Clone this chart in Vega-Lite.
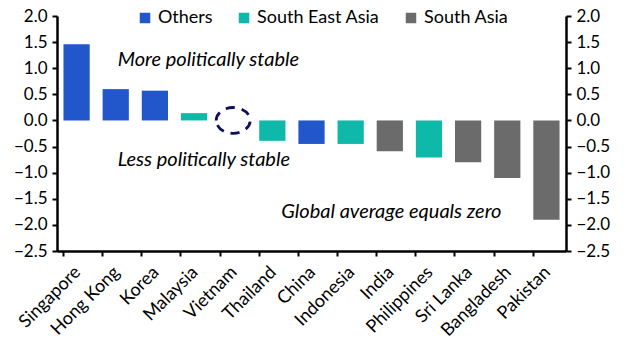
{
  "$schema": "https://vega.github.io/schema/vega-lite/v6.json",
  "autosize": "none",
  "width": 509,
  "height": 235,
  "padding": {"left": 57, "top": 16, "right": 61, "bottom": 110},
  "background": "white",
  "config": {
    "font": "Lato",
    "view": {"stroke": null},
    "axis": {"labelFont": "Lato", "labelFontSize": 17, "labelColor": "#000", "domainColor": "#000", "tickColor": "#000", "grid": false}
  },
  "data": {"values": [
    {"country": "Singapore", "value": 1.46, "group": "Others"},
    {"country": "Hong Kong", "value": 0.60, "group": "Others"},
    {"country": "Korea", "value": 0.57, "group": "Others"},
    {"country": "Malaysia", "value": 0.14, "group": "South East Asia"},
    {"country": "Vietnam", "value": 0.0, "group": "South East Asia"},
    {"country": "Thailand", "value": -0.39, "group": "South East Asia"},
    {"country": "China", "value": -0.45, "group": "Others"},
    {"country": "Indonesia", "value": -0.45, "group": "South East Asia"},
    {"country": "India", "value": -0.59, "group": "South Asia"},
    {"country": "Philippines", "value": -0.71, "group": "South East Asia"},
    {"country": "Sri Lanka", "value": -0.80, "group": "South Asia"},
    {"country": "Bangladesh", "value": -1.10, "group": "South Asia"},
    {"country": "Pakistan", "value": -1.90, "group": "South Asia"}
  ]},
  "encoding": {
    "x": {"field": "country", "type": "nominal", "sort": null,
      "scale": {"paddingInner": 0.33, "paddingOuter": 0.165},
      "axis": {"title": null, "labelAngle": -45, "labelFontSize": 18, "domain": true, "domainWidth": 2.5, "ticks": true, "tickWidth": 2, "tickSize": 5, "bandPosition": 0, "labelPadding": 7, "labelOffset": -5, "offset": 0}}
  },
  "layer": [
    {
      "mark": {"type": "bar"},
      "encoding": {
        "y": {"field": "value", "type": "quantitative",
          "scale": {"domain": [-2.5, 2.0], "nice": false, "zero": false},
          "axis": {"title": null, "orient": "left", "values": [-2.5, -2, -1.5, -1, -0.5, 0, 0.5, 1, 1.5, 2], "format": ".1f", "domainWidth": 2.5, "tickWidth": 2, "tickSize": 5, "labelPadding": 5}},
        "color": {"field": "group", "type": "nominal",
          "scale": {"domain": ["Others", "South East Asia", "South Asia"], "range": ["#2257CC", "#0FB9A9", "#6B6B6B"]},
          "legend": {"title": null, "orient": "none", "legendX": 79, "legendY": -7, "direction": "horizontal", "symbolType": "square", "symbolSize": 110, "symbolStrokeWidth": 0, "labelFontSize": 18, "labelFont": "Lato", "labelColor": "#000", "columnPadding": 22, "symbolOffset": 0, "labelOffset": 4}}
      }
    },
    {
      "mark": {"type": "rule", "color": "#000", "strokeWidth": 2.5},
      "encoding": {"y": {"datum": 0, "type": "quantitative", "axis": {"title": null, "orient": "right", "values": [-2.5, -2, -1.5, -1, -0.5, 0, 0.5, 1, 1.5, 2], "format": ".1f", "domainWidth": 2.5, "tickWidth": 2, "tickSize": 5, "labelPadding": 5}}}
    },
    {
      "transform": [{"filter": "datum.country === 'Vietnam'"}],
      "mark": {"type": "point", "shape": "M -1 0 A 1 0.76 0 1 1 1 0 A 1 0.76 0 1 1 -1 0 Z", "size": 1156, "filled": false, "opacity": 1, "stroke": "#0E0E5C", "strokeWidth": 2.8, "strokeDash": [9, 7]},
      "encoding": {"y": {"field": "value", "type": "quantitative", "axis": null}}
    },
    {
      "data": {"values": [
        {"country": "Hong Kong", "value": 1.15, "label": "More politically stable"},
        {"country": "Hong Kong", "value": -0.76, "label": "Less politically stable"}
      ]},
      "mark": {"type": "text", "align": "left", "baseline": "middle", "fontStyle": "italic", "fontSize": 20, "font": "Lato", "color": "#000", "dx": 2},
      "encoding": {"y": {"field": "value", "type": "quantitative", "axis": null}, "text": {"field": "label"}}
    },
    {
      "data": {"values": [
        {"country": "Thailand", "value": -1.76, "label": "Global average equals zero"}
      ]},
      "mark": {"type": "text", "align": "left", "baseline": "middle", "fontStyle": "italic", "fontSize": 20, "font": "Lato", "color": "#000", "dx": 9},
      "encoding": {"y": {"field": "value", "type": "quantitative", "axis": null}, "text": {"field": "label"}}
    }
  ],
  "resolve": {"scale": {"y": "shared"}, "axis": {"y": "independent"}}
}
